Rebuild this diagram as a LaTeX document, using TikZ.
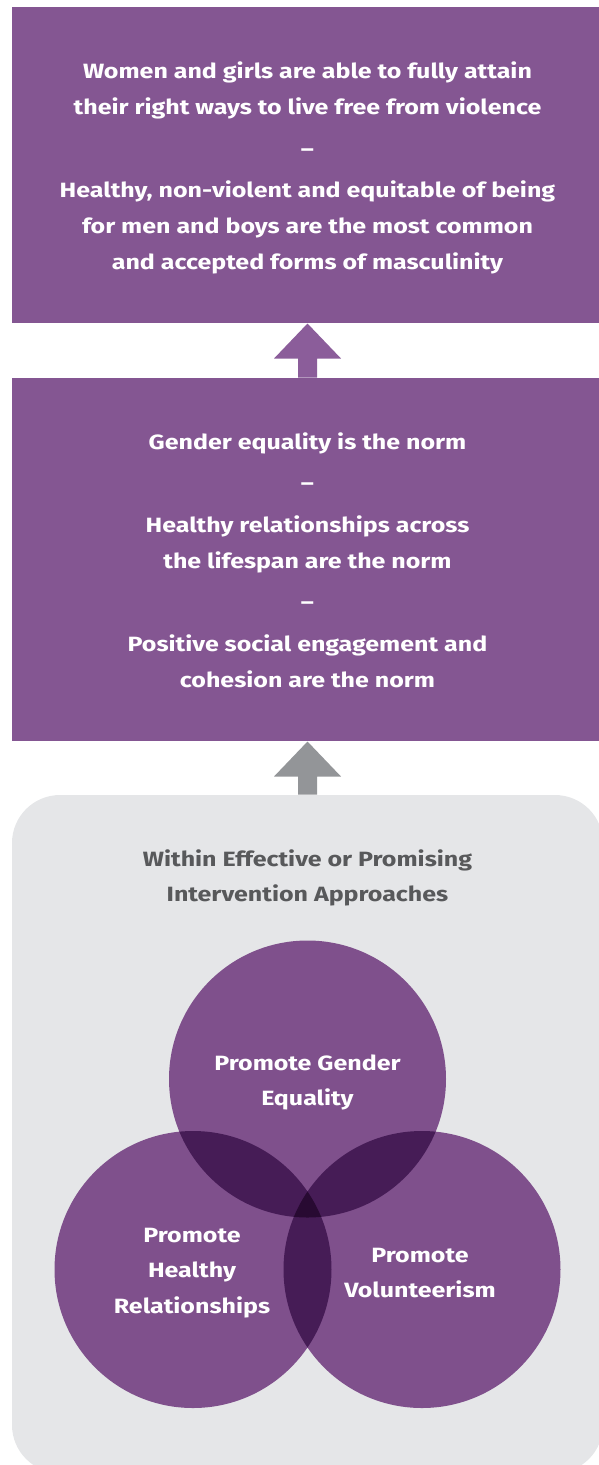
\documentclass[tikz,border=0pt]{standalone}
\usepackage{fontspec}
\setmainfont{Fira Sans}[FakeStretch=1.21]
\usetikzlibrary{calc}

\definecolor{boxpurple}{RGB}{132,86,146}
\definecolor{arrowpurple}{RGB}{139,93,154}
\definecolor{vennpurple}{RGB}{127,80,140}
\definecolor{venntwo}{RGB}{70,28,86}
\definecolor{vennthree}{RGB}{40,10,50}
\definecolor{panelgrey}{RGB}{229,230,232}
\definecolor{arrowgrey}{RGB}{147,149,152}
\definecolor{titlegrey}{RGB}{88,89,91}

\tikzset{every picture/.style={line width=0.75pt}}
\tikzset{
  purplebox/.style={fill=boxpurple, inner sep=0pt, minimum width=443.25pt, align=center, text=white,
    font=\bfseries\fontsize{15.5}{27}\selectfont},
  venntext/.style={align=center, text=white, font=\bfseries\fontsize{15.5}{26.6}\selectfont},
}

\begin{document}
\begin{tikzpicture}[x=0.75pt,y=0.75pt,yscale=-1,xscale=1]
\useasboundingbox (0,0) rectangle (599,1465);

%Shape: Rectangle [goal]
\node[purplebox, minimum height=237pt] (goal) at (307.5,165) {};
% Text Node
\node[purplebox, fill=none] (goaltext) at (307.5,168) {Women and girls are able to fully attain\\
their right ways to live free from violence\\[4.1pt]
–\\[4.1pt]
Healthy, non-violent and equitable of being\\
for men and boys are the most common\\
and accepted forms of masculinity};

%Shape: Rectangle [norms]
\node[purplebox, minimum height=272.25pt] (norms) at (307.5,559.5) {};
% Text Node
\node[purplebox, fill=none] (normstext) at (307.5,560) {Gender equality is the norm\\[4.1pt]
–\\[4.1pt]
Healthy relationships across\\
the lifespan are the norm\\[4.1pt]
–\\[4.1pt]
Positive social engagement and\\
cohesion are the norm};

%Shape: Rounded Rectangle [panel]
\node[fill=panelgrey, rounded corners=36pt, minimum width=443.25pt, minimum height=508.5pt, inner sep=0pt] (panel) at (307.5,1134) {};

%Shape: Arrow [up, purple]
\fill[arrowpurple] (goal.south) -- ++(33.5,35) -- ++(-24,0) -- ($(norms.north)+(9.5,0)$) -- ($(norms.north)+(-9.5,0)$) -- ($(goal.south)+(-9.5,35)$) -- ++(-24,0) -- cycle;
%Shape: Arrow [up, grey]
\fill[arrowgrey] (norms.south) -- ++(33.5,35) -- ++(-24,0) -- ($(panel.north)+(9.5,0)$) -- ($(panel.north)+(-9.5,0)$) -- ($(norms.south)+(-9.5,35)$) -- ++(-24,0) -- cycle;

% Text Node
\node[align=center, text=titlegrey, font=\bfseries\fontsize{15.5}{26.25}\selectfont] (title) at (307.5,878) {Within Effective or Promising\\ Intervention Approaches};

%Shape: Circles
\coordinate (cg) at (307.5,1079);
\coordinate (cl) at (193,1269.5);
\coordinate (cr) at (422,1269.5);
\fill[vennpurple] (cg) circle[radius=138.5] (cl) circle[radius=138.5] (cr) circle[radius=138.5];
\begin{scope}
  \clip (cg) circle[radius=138.5];
  \fill[venntwo] (cl) circle[radius=138.5] (cr) circle[radius=138.5];
\end{scope}
\begin{scope}
  \clip (cl) circle[radius=138.5];
  \fill[venntwo] (cr) circle[radius=138.5];
\end{scope}
\begin{scope}
  \clip (cg) circle[radius=138.5];
  \clip (cl) circle[radius=138.5];
  \fill[vennthree] (cr) circle[radius=138.5];
\end{scope}

% Text Node
\node[venntext] (gender) at (307.5,1082.5) {Promote Gender\\ Equality};
% Text Node
\node[venntext] (healthy) at (192,1273) {Promote\\ Healthy\\ Relationships};
% Text Node
\node[venntext] (volunteer) at (420,1273) {Promote\\ Volunteerism};

\end{tikzpicture}
\end{document}
